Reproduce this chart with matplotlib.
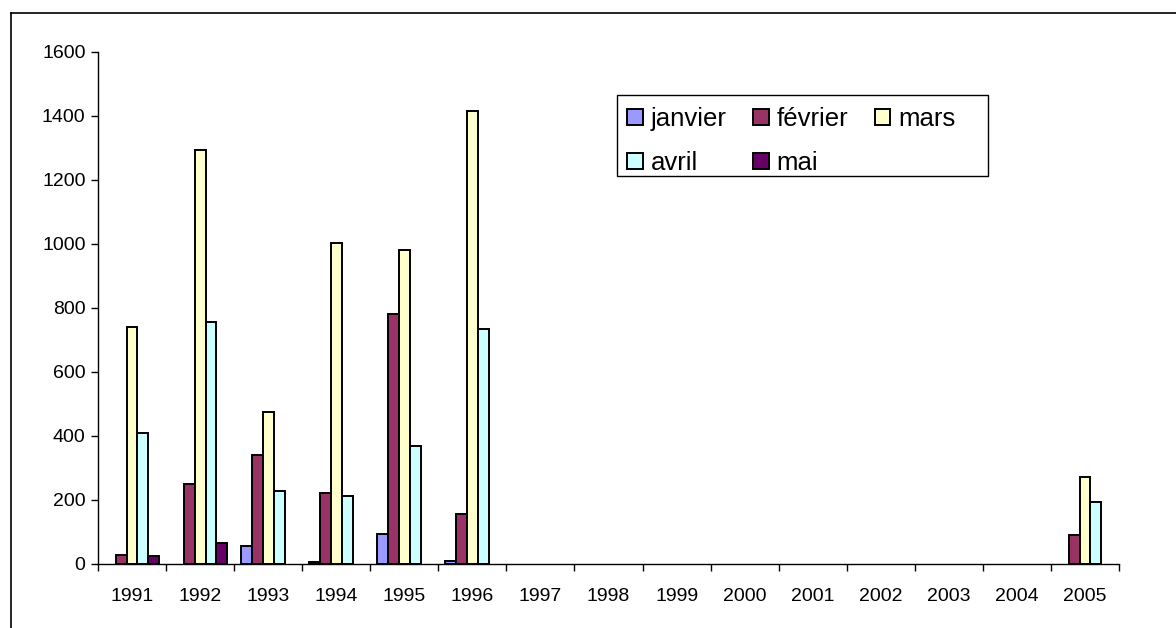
"""Monthly values per year, Excel-style clustered bar chart."""
import numpy as np
import matplotlib.pyplot as plt
from matplotlib.lines import Line2D
from matplotlib.patches import Rectangle

plt.rcParams["font.family"] = ["Liberation Sans", "DejaVu Sans"]

years = [str(y) for y in range(1991, 2006)]
nan = np.nan
# values; empty years left as NaN
janvier = [nan, nan, 56, 5, 94, 8] + [nan] * 8 + [nan]
fevrier = [27, 250, 340, 222, 780, 156] + [nan] * 8 + [91]
mars = [742, 1294, 476, 1003, 981, 1416] + [nan] * 8 + [272]
avril = [409, 757, 228, 213, 369, 734] + [nan] * 8 + [194]
mai = [25, 66, nan, nan, nan, nan] + [nan] * 8 + [nan]

series = ["janvier", "février", "mars", "avril", "mai"]
values = [janvier, fevrier, mars, avril, mai]
colors = ["#9999FF", "#993366", "#FFFFCC", "#CCFFFF", "#660066"]

W, H = 1176, 628
fig = plt.figure(figsize=(W / 100, H / 100), dpi=100)
ax = fig.add_axes([98/W, 1 - 564/H, (1119-98)/W, 512/H])

x = np.arange(len(years))
w = 0.16
for i, (name, vals, col) in enumerate(zip(series, values, colors)):
    ax.bar(x + (i - 2) * w, vals, w, color=col, edgecolor="black",
           linewidth=1.4, label=name, zorder=2)

ax.set_xlim(-0.5, len(years) - 0.5)
ax.set_ylim(0, 1600)
ax.set_yticks(range(0, 1601, 200))
ax.set_xticks(x)
ax.set_xticklabels(years)
ax.set_xticks(np.arange(-0.5, len(years)), minor=True)
ax.tick_params(axis="x", which="major", length=0, pad=17, labelsize=14)
ax.tick_params(axis="x", which="minor", length=5, width=1, direction="out")
ax.tick_params(axis="y", length=5, width=1, direction="out", pad=4,
               labelsize=14)
for s in ["top", "right"]:
    ax.spines[s].set_visible(False)
for s in ["left", "bottom"]:
    ax.spines[s].set_linewidth(1)

# legend rows: janvier février mars / avril mai
h, l = ax.get_legend_handles_labels()
order = [0, 3, 1, 4, 2]
leg = ax.legend([h[k] for k in order], [l[k] for k in order], ncol=3,
                loc="upper left", bbox_to_anchor=((617-98)/1021, (564-97)/512),
                borderaxespad=0, fontsize=18.5, frameon=False,
                handlelength=0.6, handleheight=0.6,
                handletextpad=0.3, columnspacing=1.05, labelspacing=0.78,
                borderpad=0.4)

# legend frame drawn separately (Excel box is wider than its content)
fig.add_artist(Rectangle((617/W, 1 - 176/H), (988-617)/W, (176-95)/H,
                         fill=False, edgecolor="black", lw=1, zorder=5))

# outer chart frame (top and left edges visible)
fig.add_artist(Line2D([11/W, 1], [1 - 13/H] * 2, color="black", lw=1.2))
fig.add_artist(Line2D([11/W] * 2, [0, 1 - 13/H], color="black", lw=1.2))

fig.savefig("out.png", dpi=100, facecolor="white")
